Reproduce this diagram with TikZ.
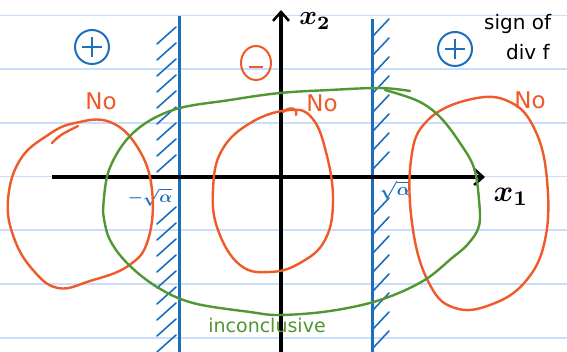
\documentclass[tikz,border=0pt]{standalone}
\usepackage{fontspec}
\usepackage{graphicx}
\setmainfont{DejaVu Sans}
\usetikzlibrary{arrows.meta}
\definecolor{rule}{RGB}{200,222,250}
\definecolor{pblue}{RGB}{30,110,190}
\definecolor{porange}{RGB}{240,90,40}
\definecolor{pgreen}{RGB}{80,150,50}
\tikzset{
  ruleline/.style={rule,line width=1.8pt},
  axis/.style={black,line width=3.2pt,-{Straight Barb[length=9pt,width=16pt,line width=2.5pt]}},
  wall/.style={pblue,line width=3pt},
  hatch/.style={pblue,line width=1.6pt,line cap=round},
  blob/.style={porange,line width=2.4pt,line cap=round,line join=round},
  region/.style={pgreen,line width=2.4pt,line cap=round,line join=round},
  lab/.style={inner sep=0pt},
  nolab/.style={lab,porange,font=\fontsize{23}{23}\selectfont},
}
\begin{document}
\begin{tikzpicture}[x=1pt,y=-1pt]
\fill[white] (0,0) rectangle (567,352);
\useasboundingbox (0,0) rectangle (567,352);
% ruled lines
\foreach \y in {15.5,69.2,123,176.6,230.3,284,337.7}
  \draw[ruleline] (0,\y) -- (567,\y);
% walls
\draw[wall] (179,16) -- (179,352);
\draw[wall] (372,19) -- (372,352);
\foreach \y in {34,50,66,82,98,114,130,146,162,214,230,246,262,278,294,310,326,342}
  \draw[hatch] (157,\y+10) -- (176,\y-7);
\foreach \y in {36,55,74,93,112,131,150,169,215,234,253,272,291,310,329,348}
  \draw[hatch] (373,\y) -- (389,\y-17);
% axes
\coordinate (xs) at (52,177);
\coordinate (xe) at (485,177);
\coordinate (ys) at (281,352);
\coordinate (ye) at (281,10);
\draw[axis] (xs) -- (xe);
\draw[axis] (ys) -- (ye);
\node[lab] (x2) at (315,21) {\scalebox{2.7}{\boldmath$x_2$}};
\node[lab] (x1) at (511,197) {\scalebox{3}{\boldmath$x_1$}};
\node[lab,pblue] (ma) at (150,197) {\scalebox{1.7}{\boldmath$-\sqrt{\alpha}$}};
\node[lab,pblue] (pa) at (395,190) {\scalebox{1.8}{\boldmath$\sqrt{\alpha}$}};
% sign circles
\draw[pblue,line width=2pt] (92,47) circle[x radius=17,y radius=17];
\draw[pblue,line width=2pt] (82,47) -- (102,47) (92,37) -- (92,57);
\draw[pblue,line width=2pt] (455,49) circle[x radius=17,y radius=17];
\draw[pblue,line width=2pt] (445,49) -- (465,49) (455,39) -- (455,59);
\draw[porange,line width=2pt] (256,63) circle[x radius=15,y radius=17];
\draw[porange,line width=2pt] (249,67) -- (263,67);
\node[lab,font=\fontsize{20}{20}\selectfont,anchor=west] (s1) at (484,24) {sign of};
\node[lab,font=\fontsize{20}{20}\selectfont,anchor=west] (s2) at (506,52) {div f};
% No labels
\node[nolab] (n1) at (101,101) {No};
\node[nolab] (n2) at (322,103) {No};
\node[nolab] (n3) at (530,100) {No};
% orange blobs
\draw[blob] plot[smooth cycle,tension=0.7] coordinates {(75,123) (110,122) (138,148) (152,190) (148,240) (128,266) (90,281) (58,288) (33,270) (14,238) (8,200) (20,160) (48,135)};
\draw[blob] (52,143) .. controls (60,135) .. (78,126);
\draw[blob] plot[smooth cycle,tension=0.7] coordinates {(290,110) (312,118) (326,152) (333,200) (325,240) (300,263) (270,272) (240,265) (218,230) (213,190) (222,150) (252,122)};
\draw[blob] (283,112) .. controls (290,106) and (298,108) .. (296,115);
\draw[blob] plot[smooth cycle,tension=0.7] coordinates {(472,99) (510,102) (535,130) (547,180) (545,240) (525,282) (490,305) (455,308) (430,285) (413,230) (411,160) (428,120)};
% green region
\draw[region] plot[smooth,tension=0.6] coordinates {(103,212) (109,170) (133,133) (173,110) (230,100) (280,93) (330,90) (380,88) (410,91)};
\draw[region] plot[smooth,tension=0.6] coordinates {(385,90) (418,101) (440,117) (460,143) (474,168) (479,200) (479,226) (468,244) (452,258) (423,281) (380,300) (330,311) (280,315) (250,312) (193,303) (157,287) (127,263) (109,238) (103,212)};
\node[lab,pgreen,font=\fontsize{19}{19}\selectfont] (inc) at (267,325) {inconclusive};
\end{tikzpicture}
\end{document}
